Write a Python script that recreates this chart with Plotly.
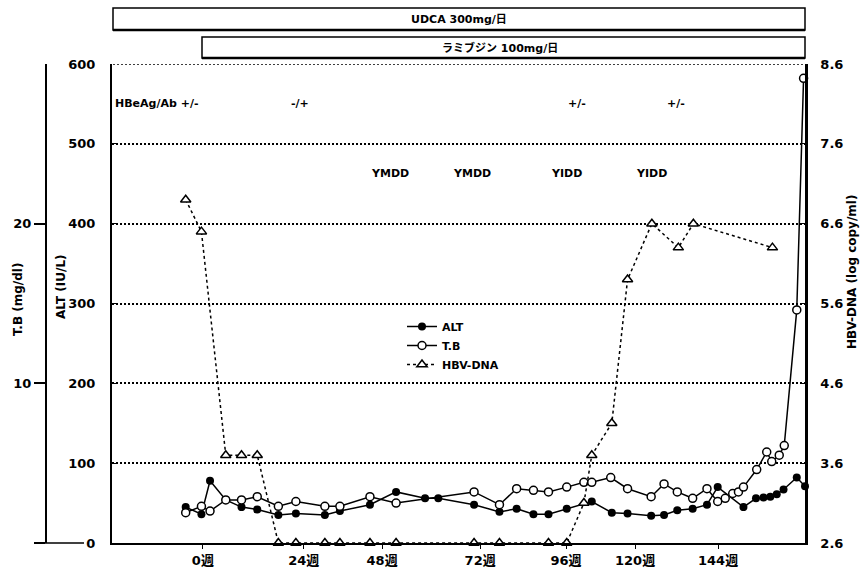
import plotly.graph_objects as go

# ---------------- data (x in weeks) ----------------
alt_weeks = [-4.8, -0.4, 2.0, 6.4, 10.8, 15.2, 21.1, 26.0, 34.1, 38.3, 46.7, 54.0,
             62.1, 65.8, 75.8, 82.9, 87.7, 92.4, 96.6, 101.7, 108.7, 114.3, 118.7,
             125.3, 128.9, 132.6, 136.9, 140.9, 143.9, 151.1, 154.6, 156.7, 158.6,
             160.4, 162.3, 166.0, 168.3]
alt_values = [45, 36, 78, 54, 45, 42, 35, 37, 35, 40, 48, 64,
              56, 56, 48, 39, 43, 36, 36, 43, 52, 38, 37,
              34, 35, 41, 43, 48, 70, 45, 56, 57, 58,
              61, 67, 82, 71]

tb_weeks = [-4.8, -0.4, 2.0, 6.4, 10.8, 15.2, 21.1, 26.0, 34.1, 38.3, 46.7, 54.0,
            75.8, 82.9, 87.7, 92.4, 96.6, 101.7, 106.5, 108.7, 114.0, 118.7, 125.3,
            128.9, 132.6, 136.9, 140.9, 143.9, 146.0, 148.1, 149.7, 151.1, 154.8,
            157.6, 159.0, 161.1, 162.5, 166.0, 167.9]
tb_values = [1.9, 2.3, 2.0, 2.7, 2.7, 2.9, 2.3, 2.6, 2.3, 2.3, 2.9, 2.5,
             3.2, 2.4, 3.4, 3.3, 3.2, 3.5, 3.8, 3.8, 4.1, 3.4, 2.9,
             3.7, 3.2, 2.8, 3.4, 2.6, 2.8, 3.1, 3.2, 3.5, 4.6,
             5.7, 5.1, 5.5, 6.1, 14.6, 29.1]

hbv_weeks = [-4.8, -0.4, 6.4, 10.8, 15.2, 21.1, 26.0, 34.1, 38.3, 46.7, 54.0,
             75.8, 82.9, 96.6, 101.7, 106.5, 108.7, 114.3, 118.7, 125.5, 132.9,
             137.1, 159.2]
hbv_values = [6.9, 6.5, 3.7, 3.7, 3.7, 2.6, 2.6, 2.6, 2.6, 2.6, 2.6,
              2.6, 2.6, 2.6, 2.6, 3.1, 3.7, 4.1, 5.9, 6.6, 6.3,
              6.6, 6.3]

x_tick_pos = [0, 28.2, 50.1, 77.5, 101.5, 120.8, 144]
x_tick_text = ["0週", "24週", "48週", "72週", "96週", "120週", "144週"]
alt_ticks = [0, 100, 200, 300, 400, 500, 600]
tb_ticks = [0, 10, 20]
tb_tick_text = ["", "10", "20"]
hbv_ticks = [2.6, 3.6, 4.6, 5.6, 6.6, 7.6, 8.6]

hbeag_text = ["HBeAg/Ab +/-", "-/+", "+/-", "+/-"]
hbeag_x = [-25.2, 27.1, 104.6, 132.3]
mut_text = ["YMDD", "YMDD", "YIDD", "YIDD"]
mut_x = [52.3, 75.2, 101.5, 125.3]

# ---------------- layout geometry ----------------
W, H = 863, 575
ML, MR, MT, MB = 0, 58, 64, 32
PW = W - ML - MR
PH = H - MT - MB


def px_x(p):
    return (p - ML) / PW


def px_y(p):
    return (H - MB - p) / PH


FONT = "DejaVu Sans, Noto Sans CJK JP, sans-serif"
JFONT = "DejaVu Sans, Noto Sans CJK JP, sans-serif"

fig = go.Figure()

fig.add_trace(go.Scatter(
    x=alt_weeks, y=alt_values, name="ALT", yaxis="y",
    mode="lines+markers", cliponaxis=False,
    line=dict(color="black", width=1.5),
    marker=dict(symbol="circle", size=8, color="black"),
))
fig.add_trace(go.Scatter(
    x=tb_weeks, y=tb_values, name="T.B", yaxis="y2",
    mode="lines+markers", cliponaxis=False,
    line=dict(color="black", width=1.5),
    marker=dict(symbol="circle", size=8, color="white",
                line=dict(color="black", width=1.5)),
))
fig.add_trace(go.Scatter(
    x=hbv_weeks, y=hbv_values, name="HBV-DNA", yaxis="y3",
    mode="lines+markers", cliponaxis=False,
    line=dict(color="black", width=1.5, dash="dot"),
    marker=dict(symbol="triangle-up", size=9, color="white",
                line=dict(color="black", width=1.5)),
))

x_left = px_x(112)

fig.update_layout(
    width=W, height=H,
    margin=dict(l=ML, r=MR, t=MT, b=MB),
    paper_bgcolor="white", plot_bgcolor="white",
    font=dict(family=FONT, color="black", size=12),
    showlegend=True,
    legend=dict(x=px_x(402), y=px_y(312), xanchor="left", yanchor="top",
                bgcolor="rgba(0,0,0,0)", borderwidth=0,
                font=dict(family=FONT, size=11, weight="bold"),
                itemwidth=30, tracegroupgap=0),
    xaxis=dict(domain=[x_left, 1.0], range=[-25.4, 168.3],
               tickmode="array", tickvals=x_tick_pos, ticktext=x_tick_text,
               showline=True, linecolor="black", linewidth=2,
               ticks="outside", ticklen=4, tickcolor="black",
               tickfont=dict(family=JFONT, size=13, weight="bold"),
               showgrid=False, zeroline=False, automargin=False),
    yaxis=dict(range=[0, 600], tickmode="array", tickvals=alt_ticks,
               anchor="x", side="left",
               showline=True, linecolor="black", linewidth=2,
               ticks="inside", ticklen=5, tickcolor="black",
               ticklabelstandoff=12,
               tickfont=dict(family=FONT, size=13, weight="bold"),
               showgrid=True, gridcolor="black", griddash="2px,2px",
               gridwidth=1.5,
               zeroline=False, automargin=False),
    yaxis2=dict(range=[0, 30], tickmode="array", tickvals=tb_ticks,
                ticktext=tb_tick_text,
                overlaying="y", anchor="free", position=px_x(46), side="left",
                showline=True, linecolor="black", linewidth=2,
                ticks="outside", ticklen=11, tickcolor="black", tickwidth=1.5,
                tickfont=dict(family=FONT, size=13, weight="bold"),
                showgrid=False, zeroline=False, automargin=False),
    yaxis3=dict(range=[2.6, 8.6], tickmode="array", tickvals=hbv_ticks,
                ticktext=[f"{v:.1f}" for v in hbv_ticks],
                overlaying="y", anchor="x", side="right",
                showline=True, linecolor="black", linewidth=2.5,
                ticks="inside", ticklen=5, tickcolor="black",
                ticklabelstandoff=10,
                tickfont=dict(family=FONT, size=13, weight="bold"),
                showgrid=False, zeroline=False, automargin=False),
)

shapes = []
# extension of the base line to the outer axis
shapes.append(dict(type="line", xref="paper", yref="paper",
                   x0=px_x(36), x1=px_x(84), y0=0, y1=0,
                   line=dict(color="black", width=1.5)))
# top grid line at 600
shapes.append(dict(type="line", xref="paper", yref="y",
                   x0=px_x(113), x1=px_x(804), y0=600, y1=600,
                   line=dict(color="black", width=1.5, dash="2px,2px")))
# treatment bars
for (x0, y0, y1) in [(113, 8, 30), (202, 37, 58)]:
    shapes.append(dict(type="rect", xref="paper", yref="paper",
                       x0=px_x(x0), x1=px_x(805), y0=px_y(y1), y1=px_y(y0),
                       line=dict(color="black", width=1.5),
                       fillcolor="white"))
    shapes.append(dict(type="line", xref="paper", yref="paper",
                       x0=px_x(x0), x1=px_x(805), y0=px_y(y1), y1=px_y(y1),
                       line=dict(color="black", width=2.5)))
fig.update_layout(shapes=shapes)

ann = []


def label(text, x, y, size=11, angle=0, xanchor="center"):
    return dict(text=text, xref="paper", yref="paper", x=px_x(x), y=px_y(y),
                xanchor=xanchor, yanchor="middle", textangle=angle,
                showarrow=False,
                font=dict(family=JFONT, size=size, weight="bold"))


ann.append(label("UDCA 300mg/日", 459, 19))
ann.append(label("ラミブジン 100mg/日", 500, 48))
for i, (t, xv) in enumerate(zip(hbeag_text, hbeag_x)):
    ann.append(dict(text=t, xref="x", yref="y", x=xv, y=551,
                    xanchor="left" if i == 0 else "center", yanchor="middle",
                    showarrow=False,
                    font=dict(family=FONT, size=11, weight="bold")))
for t, xv in zip(mut_text, mut_x):
    ann.append(dict(text=t, xref="x", yref="y", x=xv, y=463,
                    xanchor="center", yanchor="middle",
                    showarrow=False,
                    font=dict(family=FONT, size=11, weight="bold")))
# axis titles
ann.append(label("T.B (mg/dl)", 18, 300, size=12, angle=-90))
ann.append(label("ALT (IU/L)", 61, 287, size=12, angle=-90))
ann.append(label("HBV-DNA (log copy/ml)", 852, 272, size=12, angle=-90))
fig.update_layout(annotations=ann)

fig.write_html("out.html")
